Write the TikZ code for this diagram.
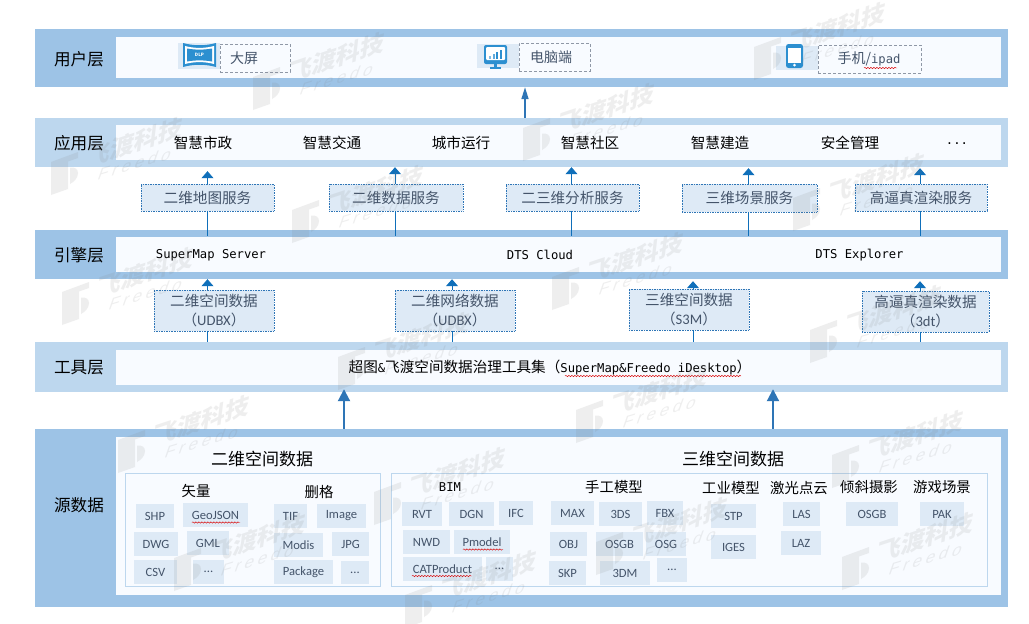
\documentclass[tikz,border=0pt]{standalone}
\usepackage{fontspec}
\setmainfont{Noto Sans CJK SC}
\newfontfamily\monf{DejaVu Sans Mono}
\newfontfamily\carl{Carlito}
\newfontfamily\wmf[LetterSpace=22]{Liberation Sans}
\usetikzlibrary{arrows.meta,decorations.pathmorphing}
\definecolor{bandA}{HTML}{9DC3E6}
\definecolor{bandB}{HTML}{BDD7EE}
\definecolor{innerc}{HTML}{F8FBFF}
\definecolor{chipc}{HTML}{DEEAF6}
\definecolor{txtc}{HTML}{44546A}
\definecolor{lnc}{HTML}{0F6FBA}
\definecolor{blueln}{HTML}{2E75B6}
\definecolor{iconc}{HTML}{2C8FD0}
\definecolor{wmc}{HTML}{808080}
\tikzset{
 bandAs/.style={fill=bandA,draw=none,inner sep=0},
 bandBs/.style={fill=bandB,draw=none,inner sep=0},
 innerb/.style={fill=innerc,draw=none,inner sep=0},
 layerlab/.style={font=\fontsize{16.6}{17}\selectfont,text=black,inner sep=0},
 bartext/.style={font=\fontsize{14.6}{15}\selectfont,text=black,inner sep=0},
 montext/.style={font=\monf\fontsize{12.2}{13}\selectfont,text=black,inner sep=0},
 headlab/.style={font=\fontsize{17}{17}\selectfont,text=black,inner sep=0},
 sublab/.style={font=\fontsize{14.4}{15}\selectfont,text=black,inner sep=0},
 svc/.style={fill=chipc,draw=blueln,densely dotted,line width=.65pt,inner sep=0,text=txtc,align=center,font=\fontsize{14.6}{19}\selectfont},
 userbox/.style={fill=innerc,draw=txtc!60,densely dashed,line width=.55pt,inner sep=0,text=txtc,font=\fontsize{14}{15}\selectfont},
 iconbg/.style={fill=chipc,draw=none,inner sep=0},
 chip/.style={fill=chipc,draw=none,inner sep=0,text=txtc,font=\carl\fontsize{12.6}{14}\selectfont},
 frameb/.style={draw=bandB,line width=.9pt,fill=none,inner sep=0},
 conn/.style={draw=lnc,line width=.9pt},
 arr/.style={conn,-{Triangle[width=12pt,length=7pt]}},
 bigline/.style={draw=blueln,line width=2pt,-{Triangle[width=12pt,length=12pt]}},
 squig/.style={draw=red!85!black,line width=.45pt,decorate,decoration={snake,amplitude=.7pt,segment length=3pt}},
 wm/.pic={
  \fill[wmc,opacity=.13,even odd rule] (0,10)--(27,0)--(27,6)--(17,9.5)--(17,37)--(0,43)--cycle
    (19,15.5) .. controls (24,15) and (27,17) .. (27,21) .. controls (27,26) and (23,30) .. (19,32) -- cycle;
  \begin{scope}[shift={(84,-10)},cm={1,.33,.12,1,(0,0)}]
   \node[transform shape,text=wmc,text opacity=.13,font=\bfseries\fontsize{24}{24}\selectfont,inner sep=0] at (0,0) {飞渡科技};
  \end{scope}
  \begin{scope}[shift={(84,12)},cm={1,.3,.35,1,(0,0)}]
   \node[transform shape,text=wmc,text opacity=.13,font=\wmf\fontsize{17}{17}\selectfont,inner sep=0] at (0,0) {Freedo};
  \end{scope}
 }
}
% #1 style, #2 name, #3..#6 x1 y1 x2 y2, #7 text
\newcommand\bx[7]{\pgfmathsetmacro\bxw{#5-#3}\pgfmathsetmacro\bxh{#6-#4}\pgfmathsetmacro\bxx{(#3+#5)/2}\pgfmathsetmacro\bxy{(#4+#6)/2}%
 \node[#1,minimum width=\bxw pt,minimum height=\bxh pt] (#2) at (\bxx,\bxy) {#7};}
\begin{document}
\begin{tikzpicture}[x=1pt,y=-1pt]
\useasboundingbox[fill=white] (0,0) rectangle (1029,624);
% layer bands
\bx{bandAs}{uo}{35}{29}{1008}{87}{}
\bx{innerb}{ui}{116}{37}{1001}{78}{}
\bx{bandBs}{ao}{35}{118}{1008}{167}{}
\bx{innerb}{ai}{116}{125}{1001}{160}{}
\bx{bandAs}{eo}{35}{230}{1008}{279}{}
\bx{innerb}{ei}{116}{237}{1001}{272}{}
\bx{bandBs}{to}{35}{342}{1008}{392}{}
\bx{innerb}{ti}{116}{350}{1001}{385}{}
\bx{bandAs}{so}{35}{429}{1008}{607}{}
\bx{innerb}{si}{116}{437}{1001}{595}{}
% layer labels
\node[layerlab] (l1) at (79,59) {用户层};
\node[layerlab] (l2) at (79,143) {应用层};
\node[layerlab] (l3) at (79,255) {引擎层};
\node[layerlab] (l4) at (79,368) {工具层};
\node[layerlab] (l5) at (79,505) {源数据};
% user row
\bx{iconbg}{ib1}{178}{43}{220}{69}{}
\bx{iconbg}{ib2}{477}{44}{519}{68}{}
\bx{iconbg}{ib3}{776}{46}{818}{70}{}
\bx{userbox}{ub1}{220}{44}{290}{72}{}
\bx{userbox}{ub2}{519}{43}{590}{71}{}
\bx{userbox}{ub3}{818}{45}{921}{73}{}
\node[text=txtc,font=\fontsize{14}{15}\selectfont,inner sep=0] (ut1) at (244,58.5) {大屏};
\node[text=txtc,font=\fontsize{14}{15}\selectfont,inner sep=0] (ut2) at (551,57) {电脑端};
\node[text=txtc,font=\fontsize{14}{15}\selectfont,inner sep=0] (ut3) at (869,59) {手机/{\monf\fontsize{12.2}{13}\selectfont ipad}};
\draw[squig] (864,68) -- (897,68);
% DLP icon
\fill[iconc] (183,43) .. controls (194,46) and (205,46) .. (216,43) -- (216,67) .. controls (205,64) and (194,64) .. (183,67) -- cycle;
\fill[white] (185,46) .. controls (194,48.5) and (205,48.5) .. (214,46) -- (214,64) .. controls (205,61.5) and (194,61.5) .. (185,64) -- cycle;
\fill[iconc] (187,48.5) .. controls (195,50) and (204,50) .. (212,48.5) -- (212,61.5) .. controls (204,60) and (195,60) .. (187,61.5) -- cycle;
\node[text=white,font=\bfseries\fontsize{4.5}{5}\selectfont,inner sep=0] (dlp) at (199.5,55) {DLP};
% monitor icon
\fill[iconc,rounded corners=2pt] (484,45) rectangle (507,64);
\fill[white,rounded corners=1pt] (486,47) rectangle (505,60);
\fill[iconc] (494,64) rectangle (497,67);
\fill[iconc] (490,67) rectangle (501,68.5);
\fill[iconc!60] (489,56) rectangle (491,58.5);
\fill[iconc!75] (492.5,54) rectangle (494.5,58.5);
\fill[iconc] (496,52) rectangle (498,58.5);
\fill[iconc] (499.5,49.5) rectangle (501.5,58.5);
% phone icon
\fill[iconc,rounded corners=2.5pt] (786,44) rectangle (803,68);
\fill[white] (788,47.5) rectangle (801,62.5);
\fill[white] (794.5,65.2) circle (1.5);
% application row
\node[bartext] (a1) at (203,143) {智慧市政};
\node[bartext] (a2) at (332,143) {智慧交通};
\node[bartext] (a3) at (461,143) {城市运行};
\node[bartext] (a4) at (590,143) {智慧社区};
\node[bartext] (a5) at (720,143) {智慧建造};
\node[bartext] (a6) at (850,143) {安全管理};
\node[bartext,font=\monf\fontsize{12.2}{13}\selectfont] (a7) at (957,144) {...};
% services
\bx{svc}{sv1}{141}{184}{274}{211}{二维地图服务}
\bx{svc}{sv2}{329}{184}{463}{211}{二维数据服务}
\bx{svc}{sv3}{506}{184}{639}{211}{二三维分析服务}
\bx{svc}{sv4}{682}{184}{817}{212}{三维场景服务}
\bx{svc}{sv5}{855}{184}{987}{211}{高逼真渲染服务}
% engine row
\node[montext] (e1) at (211,255) {SuperMap Server};
\node[montext] (e2) at (540,255) {DTS Cloud};
\node[montext] (e3) at (859.5,255) {DTS Explorer};
% data
\bx{svc}{d1}{154}{290}{274}{331}{二维空间数据\\（{\carl UDBX}）}
\bx{svc}{d2}{395}{290}{515}{331}{二维网络数据\\（{\carl UDBX}）}
\bx{svc}{d3}{629}{289}{749}{330}{三维空间数据\\（{\carl S3M}）}
\bx{svc}{d4}{862}{291}{989}{332}{高逼真渲染数据\\（{\carl 3dt}）}
% tool row
\node[bartext] (t1) at (550,368) {超图{\monf\fontsize{12.2}{13}\selectfont\&}飞渡空间数据治理工具集（{\monf\fontsize{12.2}{13}\selectfont SuperMap\&Freedo iDesktop}）};
\draw[squig] (565,376) -- (741,376);
% connector anchors
\coordinate (c1) at (207.5,0);
\coordinate (c2) at (395,0);
\coordinate (c3) at (571.5,0);
\coordinate (c4) at (748.5,0);
\coordinate (c5) at (920,0);
\coordinate (c6) at (452,0);
\coordinate (c7) at (693,0);
\coordinate (c8) at (525,0);
\coordinate (c9) at (344,0);
\coordinate (c10) at (773,0);
% connectors: services
\foreach \s/\c/\g in {sv1/c1/4,sv2/c2/0,sv3/c3/0,sv4/c4/1,sv5/c5/1}{
 \draw[conn] (\s.south -| \c) -- ([yshift=1pt]ei.north -| \c);
 \draw[arr] (\s.north -| \c) -- ([yshift=-\g pt]ao.south -| \c);
}
% connectors: data
\foreach \s/\c/\g in {d1/c1/0,d2/c6/0,d3/c7/2,d4/c5/2}{
 \draw[conn] (\s.south -| \c) -- (to.north -| \c);
 \draw[arr] (\s.north -| \c) -- ([yshift=-\g pt]eo.south -| \c);
}
% main arrows
\draw[draw=blueln,line width=1.6pt,-{Triangle[width=7pt,length=12pt]}] (ao.north -| c8) -- (uo.south -| c8);
\draw[bigline] (so.north -| c9) -- ([yshift=3pt]to.south -| c9);
\draw[bigline] (so.north -| c10) -- ([yshift=3pt]to.south -| c10);
% source data
\node[headlab] (h1) at (262,459) {二维空间数据};
\node[headlab] (h2) at (733,459) {三维空间数据};
\bx{frameb}{f1}{125}{473}{380}{586}{}
\bx{frameb}{f2}{391}{473}{987}{586}{}
\node[sublab] (s1) at (196,491) {矢量};
\node[sublab] (s2) at (319,492) {删格};
\node[sublab,font=\monf\fontsize{12.2}{13}\selectfont] (s3) at (450,487) {BIM};
\node[sublab] (s4) at (614,487) {手工模型};
\node[sublab] (s5) at (731,488) {工业模型};
\node[sublab] (s6) at (799,488) {激光点云};
\node[sublab] (s7) at (869,487) {倾斜摄影};
\node[sublab] (s8) at (942,487) {游戏场景};
\bx{chip}{k1}{136}{504}{174}{528}{SHP}
\bx{chip}{k2}{183}{503}{248}{527}{GeoJSON}
\bx{chip}{k3}{134}{532}{178}{556}{DWG}
\bx{chip}{k4}{187}{531}{229}{555}{GML}
\bx{chip}{k5}{134}{560}{177}{584}{CSV}
\bx{chip}{k6}{193}{560}{224}{584}{...}
\bx{chip}{k7}{274}{504}{307}{528}{TIF}
\bx{chip}{k8}{317}{504}{366}{528}{Image}
\bx{chip}{k9}{274}{533}{323}{557}{Modis}
\bx{chip}{k10}{332}{532}{369}{556}{JPG}
\bx{chip}{k11}{274}{560}{333}{584}{Package}
\bx{chip}{k12}{341}{561}{369}{584}{...}
\bx{chip}{k13}{402}{502}{442}{526}{RVT}
\bx{chip}{k14}{449}{502}{494}{526}{DGN}
\bx{chip}{k15}{499}{501}{533}{525}{IFC}
\bx{chip}{k16}{403}{530}{450}{554}{NWD}
\bx{chip}{k17}{454}{530}{510}{554}{Pmodel}
\bx{chip}{k18}{403}{557}{482}{581}{CATProduct}
\bx{chip}{k19}{486}{557}{513}{581}{...}
\bx{chip}{k20}{551}{501}{594}{525}{MAX}
\bx{chip}{k21}{599}{502}{642}{526}{3DS}
\bx{chip}{k22}{647}{501}{683}{525}{FBX}
\bx{chip}{k23}{550}{532}{587}{556}{OBJ}
\bx{chip}{k24}{596}{532}{643}{556}{OSGB}
\bx{chip}{k25}{646}{532}{686}{556}{OSG}
\bx{chip}{k26}{549}{561}{586}{585}{SKP}
\bx{chip}{k27}{600}{561}{650}{585}{3DM}
\bx{chip}{k28}{657}{558}{687}{582}{...}
\bx{chip}{k29}{711}{504}{756}{528}{STP}
\bx{chip}{k30}{711}{535}{756}{559}{IGES}
\bx{chip}{k31}{783}{502}{820}{526}{LAS}
\bx{chip}{k32}{781}{531}{821}{555}{LAZ}
\bx{chip}{k33}{846}{502}{898}{526}{OSGB}
\bx{chip}{k34}{920}{502}{964}{526}{PAK}
\draw[squig] (192,522.5) -- (240,522.5);
\draw[squig] (463,549.5) -- (503,549.5);
\draw[squig] (412,576) -- (472,576);
% watermarks
\foreach \wx/\wy in {253/67,51/152,292/200,754/37,523/118,793/188,62/282,338/347,552/267,810/320,576/400,118/430,374/482,174/548,405/585,832/445,842/547,596/532}{
 \pic at (\wx,\wy) {wm};
}
\end{tikzpicture}
\end{document}
